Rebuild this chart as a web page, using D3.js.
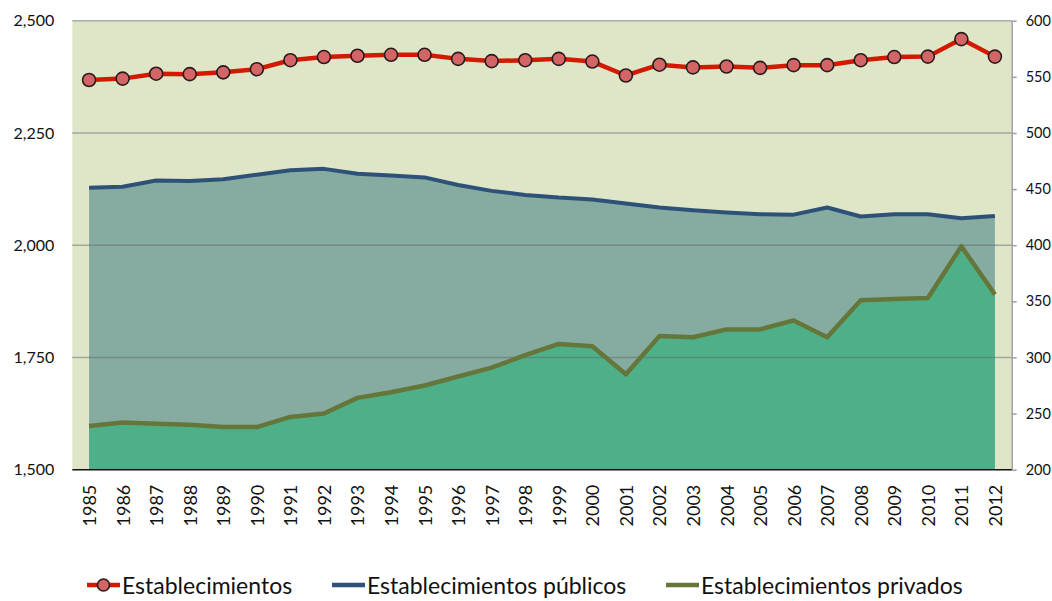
<!DOCTYPE html>
<html>
<head>
<meta charset="utf-8">
<script src="https://cdn.jsdelivr.net/npm/d3@7"></script>
<style>
  html, body { margin: 0; padding: 0; background: #fff; }
  svg { display: block; font-family: Lato, "Open Sans", sans-serif; }
</style>
</head>
<body>
<svg id="chart" width="1052" height="601"></svg>
<script>
var years = [1985, 1986, 1987, 1988, 1989, 1990, 1991, 1992, 1993, 1994,
  1995, 1996, 1997, 1998, 1999, 2000, 2001, 2002, 2003, 2004,
  2005, 2006, 2007, 2008, 2009, 2010, 2011, 2012];

// total (left axis)
var establecimientos = [2368, 2371, 2382, 2381, 2385, 2392, 2412, 2419, 2422, 2424,
  2424, 2415, 2410, 2412, 2415, 2409, 2378, 2402, 2396, 2398,
  2395, 2401, 2401, 2412, 2419, 2420, 2459, 2420];

// públicos (left axis)
var publicos = [2128, 2130, 2144, 2143, 2147, 2157, 2167, 2170, 2159, 2155,
  2151, 2134, 2121, 2112, 2106, 2102, 2093, 2084, 2078, 2073,
  2069, 2068, 2084, 2064, 2069, 2069, 2060, 2065];

// privados (right axis)
var privados = [239, 242, 241, 240, 238, 238, 247, 250, 264, 269,
  275, 283, 291, 302, 312, 310, 285, 319, 318, 325,
  325, 333, 318, 351, 352, 353, 399, 356];

var leftTicks = [1500, 1750, 2000, 2250, 2500];
var rightTicks = [200, 250, 300, 350, 400, 450, 500, 550, 600];
var seriesNames = ['Establecimientos', 'Establecimientos públicos', 'Establecimientos privados'];

var plot = { left: 72.3, right: 1011.7, top: 20.7, bottom: 469.7 };

var svg = d3.select('#chart');

var x = d3.scalePoint().domain(years).range([plot.left, plot.right]).padding(0.5);
var yL = d3.scaleLinear().domain([1500, 2500]).range([plot.bottom, plot.top]);
var yR = d3.scaleLinear().domain([200, 600]).range([plot.bottom, plot.top]);

// plot background
svg.append('rect')
  .attr('x', plot.left).attr('y', plot.top)
  .attr('width', plot.right - plot.left)
  .attr('height', plot.bottom - plot.top)
  .attr('fill', '#dfe6c8');

var pubData = years.map(function (y, i) { return { year: y, v: publicos[i] }; });
var privData = years.map(function (y, i) { return { year: y, v: privados[i] }; });
var totData = years.map(function (y, i) { return { year: y, v: establecimientos[i] }; });

// areas
svg.append('path')
  .datum(pubData)
  .attr('fill', '#86aba1')
  .attr('d', d3.area()
    .x(function (d) { return x(d.year); })
    .y0(yL(1500))
    .y1(function (d) { return yL(d.v); }));

svg.append('path')
  .datum(privData)
  .attr('fill', '#4eb088')
  .attr('d', d3.area()
    .x(function (d) { return x(d.year); })
    .y0(yR(200))
    .y1(function (d) { return yR(d.v); }));

// gridlines, drawn over the areas so they show through
svg.append('g').selectAll('line')
  .data(leftTicks.filter(function (t) { return t > 1500; }))
  .enter().append('line')
  .attr('x1', plot.left).attr('x2', plot.right)
  .attr('y1', function (d) { return yL(d); })
  .attr('y2', function (d) { return yL(d); })
  .attr('stroke', '#5f6a72')
  .attr('stroke-opacity', 0.5)
  .attr('stroke-width', 1.5);

// lines
svg.append('path')
  .datum(pubData)
  .attr('fill', 'none')
  .attr('stroke', '#2e5277')
  .attr('stroke-width', 4)
  .attr('stroke-linejoin', 'round')
  .attr('d', d3.line()
    .x(function (d) { return x(d.year); })
    .y(function (d) { return yL(d.v); }));

svg.append('path')
  .datum(privData)
  .attr('fill', 'none')
  .attr('stroke', '#65763a')
  .attr('stroke-width', 4.5)
  .attr('stroke-linejoin', 'round')
  .attr('d', d3.line()
    .x(function (d) { return x(d.year); })
    .y(function (d) { return yR(d.v); }));

svg.append('path')
  .datum(totData)
  .attr('fill', 'none')
  .attr('stroke', '#d21a00')
  .attr('stroke-width', 4.5)
  .attr('stroke-linejoin', 'round')
  .attr('d', d3.line()
    .x(function (d) { return x(d.year); })
    .y(function (d) { return yL(d.v); }));

svg.append('g').selectAll('circle')
  .data(totData)
  .enter().append('circle')
  .attr('cx', function (d) { return x(d.year); })
  .attr('cy', function (d) { return yL(d.v); })
  .attr('r', 6.5)
  .attr('fill', '#d46566')
  .attr('stroke', '#2b1a1a')
  .attr('stroke-width', 1.6);

// left axis
var leftAxis = svg.append('g')
  .attr('transform', 'translate(' + plot.left + ',0)')
  .call(d3.axisLeft(yL).tickValues(leftTicks).tickSize(0).tickPadding(18)
    .tickFormat(d3.format(',')));
leftAxis.select('.domain').remove();
leftAxis.selectAll('text')
  .attr('font-family', 'Lato, sans-serif')
  .attr('font-size', 16)
  .attr('fill', '#111');

// right axis
var rightAxis = svg.append('g')
  .attr('transform', 'translate(' + plot.right + ',0)')
  .call(d3.axisRight(yR).tickValues(rightTicks).tickSize(5).tickPadding(9)
    .tickSizeOuter(0));
rightAxis.select('.domain').attr('stroke', '#a0a0a0').attr('stroke-width', 1.5);
rightAxis.selectAll('.tick line').attr('stroke', '#a0a0a0').attr('stroke-width', 1.5);
rightAxis.selectAll('text')
  .attr('font-family', 'Lato, sans-serif')
  .attr('font-size', 14.5)
  .attr('fill', '#111');

// bottom axis
var bottomAxis = svg.append('g')
  .attr('transform', 'translate(0,' + plot.bottom + ')')
  .call(d3.axisBottom(x).tickSize(0).tickSizeOuter(0));
bottomAxis.select('.domain')
  .attr('stroke', '#111')
  .attr('stroke-width', 1.6)
  .attr('d', 'M' + plot.left + ',0H' + plot.right);
bottomAxis.selectAll('text')
  .attr('font-family', 'Lato, sans-serif')
  .attr('font-size', 18)
  .attr('fill', '#111')
  .attr('text-anchor', 'end')
  .attr('transform', 'rotate(-90)')
  .attr('x', -15)
  .attr('y', 0)
  .attr('dy', '0.36em');

// legend (raised a little so descenders are not clipped)
var legendItems = [
  { name: seriesNames[0], color: '#d21a00', x: 87, marker: true },
  { name: seriesNames[1], color: '#2e5277', x: 332, marker: false },
  { name: seriesNames[2], color: '#65763a', x: 666, marker: false }
];
var legend = svg.append('g').attr('transform', 'translate(0,585)');
var li = legend.selectAll('g').data(legendItems).enter().append('g')
  .attr('transform', function (d) { return 'translate(' + d.x + ',0)'; });
li.append('line')
  .attr('x1', 0).attr('x2', 33).attr('y1', 0).attr('y2', 0)
  .attr('stroke', function (d) { return d.color; })
  .attr('stroke-width', 4.5);
li.filter(function (d) { return d.marker; }).append('circle')
  .attr('cx', 16.5).attr('cy', 0).attr('r', 6)
  .attr('fill', '#d46566').attr('stroke', '#2b1a1a').attr('stroke-width', 1.6);
li.append('text')
  .attr('x', 35).attr('y', 9)
  .attr('font-size', 23)
  .attr('fill', '#111')
  .text(function (d) { return d.name; });
</script>
</body>
</html>
